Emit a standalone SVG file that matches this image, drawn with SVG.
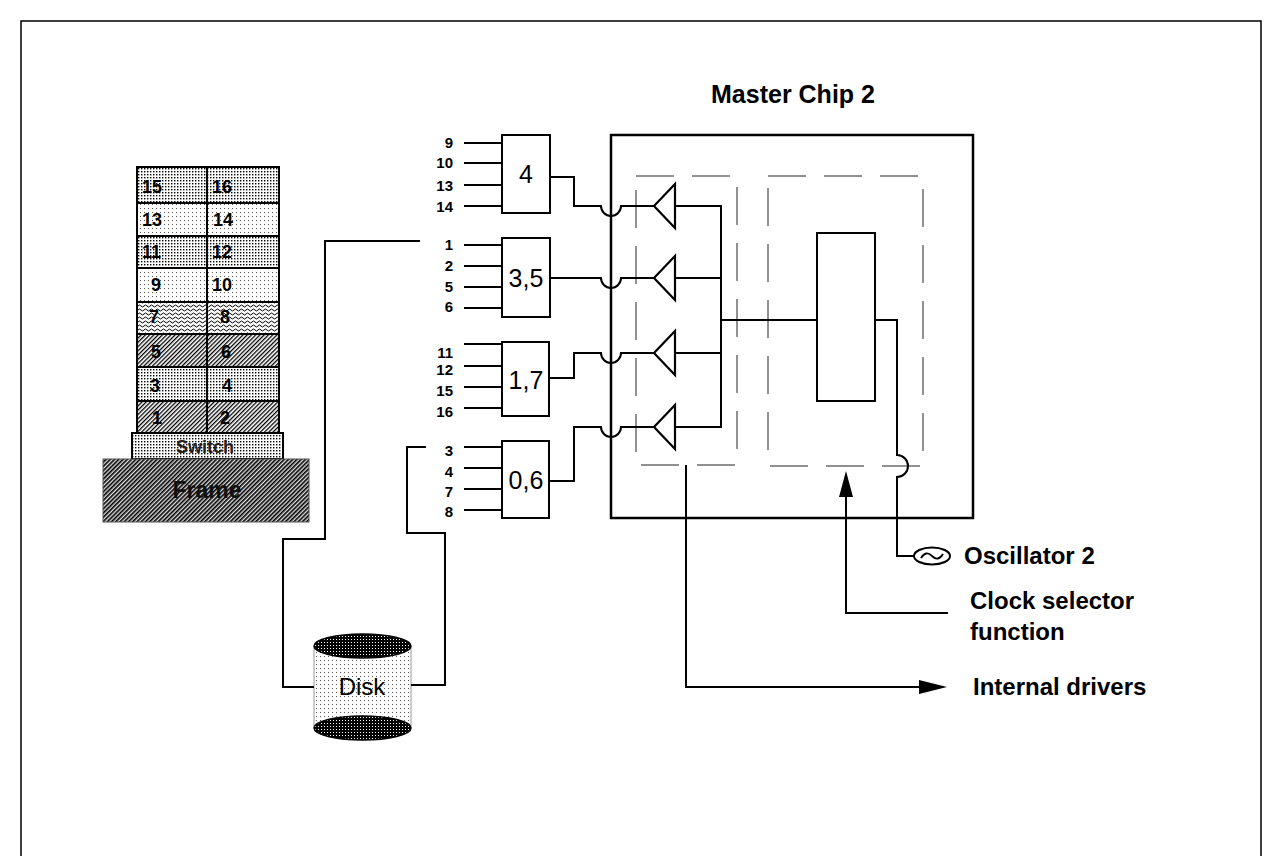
<svg xmlns="http://www.w3.org/2000/svg" width="1281" height="856" viewBox="0 0 1281 856">
  <defs>
    <!-- fill textures for the rack, switch, frame and disk -->
    <pattern id="dotDense" width="3" height="3" patternUnits="userSpaceOnUse">
      <rect width="3" height="3" fill="#fff"/>
      <rect width="1.4" height="1.4" fill="#000"/>
    </pattern>
    <pattern id="dotLight" width="4" height="4" patternUnits="userSpaceOnUse">
      <rect width="4" height="4" fill="#fff"/>
      <rect width="1" height="1" fill="#555"/>
    </pattern>
    <pattern id="wave" width="6" height="4" patternUnits="userSpaceOnUse">
      <rect width="6" height="4" fill="#fff"/>
      <path d="M0,2 L1.5,1 L3,2 L4.5,3 L6,2" fill="none" stroke="#000" stroke-width="1"/>
    </pattern>
    <pattern id="hatch" width="3" height="3" patternUnits="userSpaceOnUse" patternTransform="rotate(-45)">
      <rect width="3" height="3" fill="#fff"/>
      <rect width="3" height="1.3" fill="#000"/>
    </pattern>
    <pattern id="hatchDark" width="3" height="3" patternUnits="userSpaceOnUse" patternTransform="rotate(-45)">
      <rect width="3" height="3" fill="#ddd"/>
      <rect width="3" height="1.6" fill="#000"/>
    </pattern>
    <pattern id="dotDark" width="3" height="3" patternUnits="userSpaceOnUse">
      <rect width="3" height="3" fill="#000"/>
      <rect width="1" height="1" fill="#fff"/>
    </pattern>
    <style>
      .ln { fill: none; stroke: #000; stroke-width: 2; }
      .box { fill: #fff; stroke: #000; stroke-width: 2; }
      .dash { fill: none; stroke: #222; stroke-width: 1; stroke-dasharray: 38 18; }
      .tri { fill: #fff; stroke: #000; stroke-width: 2.2; stroke-linejoin: miter; }
      .cell { stroke: #000; stroke-width: 2; }
      .rk { font-family: "Liberation Sans", Arial, sans-serif; font-size: 18px; font-weight: bold; fill: #000; }
      .pin { font-family: "Liberation Sans", Arial, sans-serif; font-size: 15px; font-weight: bold; fill: #000; text-anchor: end; }
      .mux { font-family: "Liberation Sans", Arial, sans-serif; font-size: 25px; fill: #000; text-anchor: middle; }
      .lbl { font-family: "Liberation Sans", Arial, sans-serif; font-size: 24px; font-weight: bold; fill: #000; }
    </style>
  </defs>

  <rect width="1281" height="856" fill="#fff"/>
  <!-- page border -->
  <path d="M21,856 V21 H1261 V856" fill="none" stroke="#000" stroke-width="1.5"/>

  <!-- SP frame: rack of 16 nodes, switch and frame base -->
  <g id="rack">
    <rect x="137" y="167" width="142" height="36" fill="url(#dotDense)"/>
    <rect x="137" y="203" width="142" height="33" fill="url(#dotLight)"/>
    <rect x="137" y="236" width="142" height="32" fill="url(#dotDense)"/>
    <rect x="137" y="268" width="142" height="34" fill="url(#dotLight)"/>
    <rect x="137" y="302" width="142" height="32" fill="url(#wave)"/>
    <rect x="137" y="334" width="142" height="33" fill="url(#hatch)"/>
    <rect x="137" y="367" width="142" height="34" fill="url(#dotDense)"/>
    <rect x="137" y="401" width="142" height="32" fill="url(#hatch)"/>
    <rect x="137" y="167" width="142" height="266" fill="none" class="cell"/>
    <path d="M207,167 V433 M137,203 H279 M137,236 H279 M137,268 H279 M137,302 H279 M137,334 H279 M137,367 H279 M137,401 H279" class="cell" fill="none"/>
    <text class="rk" x="142" y="193">15</text><text class="rk" x="212" y="193">16</text>
    <text class="rk" x="142" y="226">13</text><text class="rk" x="213" y="226">14</text>
    <text class="rk" x="142" y="258">11</text><text class="rk" x="212" y="258">12</text>
    <text class="rk" x="151" y="291">9</text><text class="rk" x="212" y="291">10</text>
    <text class="rk" x="149" y="323">7</text><text class="rk" x="220" y="323">8</text>
    <text class="rk" x="151" y="358">5</text><text class="rk" x="221" y="358">6</text>
    <text class="rk" x="150" y="392">3</text><text class="rk" x="222" y="392">4</text>
    <text class="rk" x="152" y="424">1</text><text class="rk" x="220" y="424">2</text>
  </g>
  <g id="switch">
    <rect x="132" y="433" width="151" height="26" fill="url(#dotDense)" stroke="#000" stroke-width="2"/>
    <text x="205" y="453" text-anchor="middle" font-family="Liberation Sans, Arial, sans-serif" font-size="18" font-weight="bold" fill="#222">Switch</text>
  </g>
  <g id="frame">
    <rect x="103" y="459" width="206" height="63" fill="url(#hatchDark)" stroke="#555" stroke-width="1"/>
    <text x="207" y="498" text-anchor="middle" font-family="Liberation Sans, Arial, sans-serif" font-size="23" font-weight="bold" fill="#111">Frame</text>
  </g>

  <!-- disk -->
  <g id="disk">
    <path d="M314,646 V728 A48.5,12 0 0 0 411,728 V646 Z" fill="url(#dotLight)"/>
    <path d="M314,646 V728 M411,646 V728" fill="none" stroke="#999" stroke-width="1"/>
    <ellipse cx="362.5" cy="728" rx="48.5" ry="12" fill="url(#dotDark)" stroke="#000" stroke-width="1.5"/>
    <ellipse cx="362.5" cy="646" rx="48.5" ry="12" fill="url(#dotDark)" stroke="#000" stroke-width="1.5"/>
    <text x="362" y="695" text-anchor="middle" font-family="Liberation Sans, Arial, sans-serif" font-size="24" fill="#000">Disk</text>
  </g>

  <!-- multiplexers -->
  <g id="mux-4">
    <rect class="box" x="502" y="135" width="48" height="78"/>
    <text class="mux" x="526" y="183">4</text>
    <text class="pin" x="453" y="148">9</text>
    <text class="pin" x="453" y="168">10</text>
    <text class="pin" x="453" y="191">13</text>
    <text class="pin" x="453" y="212">14</text>
  </g>
  <g id="mux-3-5">
    <rect class="box" x="502" y="238" width="48" height="79"/>
    <text class="mux" x="526" y="287">3,5</text>
    <text class="pin" x="453" y="250">1</text>
    <text class="pin" x="453" y="271">2</text>
    <text class="pin" x="453" y="292">5</text>
    <text class="pin" x="453" y="312">6</text>
  </g>
  <g id="mux-1-7">
    <rect class="box" x="502" y="342" width="47" height="74"/>
    <text class="mux" x="526" y="389">1,7</text>
    <text class="pin" x="453" y="358">11</text>
    <text class="pin" x="453" y="375">12</text>
    <text class="pin" x="453" y="396">15</text>
    <text class="pin" x="453" y="417">16</text>
  </g>
  <g id="mux-0-6">
    <rect class="box" x="502" y="441" width="47" height="77"/>
    <text class="mux" x="526" y="489">0,6</text>
    <text class="pin" x="453" y="456">3</text>
    <text class="pin" x="453" y="477">4</text>
    <text class="pin" x="453" y="497">7</text>
    <text class="pin" x="453" y="517">8</text>
  </g>

  <!-- master chip -->
  <g id="master-chip">
    <text x="793" y="103" text-anchor="middle" font-family="Liberation Sans, Arial, sans-serif" font-size="25" font-weight="bold" fill="#000">Master Chip 2</text>
    <rect x="611" y="135" width="362" height="383" fill="none" stroke="#000" stroke-width="2.5"/>
    <rect class="dash" x="636" y="176" width="101" height="289"/>
    <rect class="dash" x="768" y="176" width="155" height="290"/>
  </g>
  <g id="drivers">
    <polygon class="tri" points="654,206 675,184 675,228"/>
    <polygon class="tri" points="654,278 675,256 675,300"/>
    <polygon class="tri" points="654,353 675,331 675,375"/>
    <polygon class="tri" points="654,427 675,405 675,449"/>
  </g>
  <g id="selector">
    <rect class="box" x="817" y="233" width="58" height="168"/>
  </g>
  <g id="oscillator">
    <ellipse cx="932" cy="556" rx="18" ry="8.5" fill="#fff" stroke="#000" stroke-width="2"/>
    <path d="M921,558 q5,-8 11,-2 t11,-2" fill="none" stroke="#000" stroke-width="1.8"/>
    <text class="lbl" x="964" y="564" font-size="25">Oscillator 2</text>
  </g>
  <g id="labels">
    <text class="lbl" x="970" y="609">Clock selector</text>
    <text class="lbl" x="970" y="640">function</text>
    <text class="lbl" x="973" y="695" font-size="25">Internal drivers</text>
  </g>

  <!-- wiring -->
  <g id="connectors" class="ln">
    <!-- input pins -->
    <path d="M464,143 H502 M464,163 H502 M464,185 H502 M464,206 H502"/>
    <path d="M464,245 H502 M464,266 H502 M464,287 H502 M464,308 H502"/>
    <path d="M464,344 H502 M464,366 H502 M464,387 H502 M464,408 H502"/>
    <path d="M464,447 H502 M464,468 H502 M464,489 H502 M464,510 H502"/>
    <!-- mux outputs hopping over the chip edge to the drivers -->
    <path d="M550,177 H574 V206 H601 A10,10 0 0 0 621,206 H654"/>
    <path d="M550,278 H601 A10,10 0 0 0 621,278 H654"/>
    <path d="M549,378 H574 V353 H601 A10,10 0 0 0 621,353 H654"/>
    <path d="M549,481 H574 V427 H601 A10,10 0 0 0 621,427 H654"/>
    <!-- driver bus into the selector -->
    <path d="M675,206 H721 V427 H675 M675,278 H721 M675,353 H721 M721,320 H817"/>
    <!-- oscillator feed -->
    <path d="M875,320 H897 V455 A11,11 0 0 1 897,477 V556 H914"/>
    <!-- clock selector function pointer -->
    <path d="M948,613 H846 V495"/>
    <!-- internal drivers output -->
    <path d="M686,465 V687 H921"/>
    <!-- disk cabling -->
    <path d="M420,241 H325 V539 H283 V687 H314"/>
    <path d="M426,447 H407 V533 H445 V685 H411"/>
  </g>
  <g id="arrowheads" fill="#000">
    <polygon points="846,471 839,497 853,497"/>
    <polygon points="947,687 919,680 919,694"/>
  </g>
</svg>
